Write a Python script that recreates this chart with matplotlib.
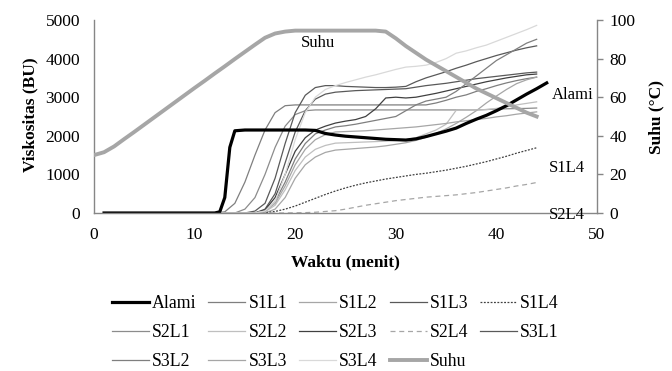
import matplotlib
matplotlib.use("Agg")
import matplotlib.pyplot as plt
import numpy as np

plt.rcParams['font.family'] = ['Liberation Serif', 'DejaVu Serif']

# waktu (menit) for the viskositas curves
waktu = np.arange(1, 45)

s1l1 = [0, 0, 0, 0, 0, 0, 0, 0, 0, 0, 0, 0, 30, 250, 800, 1500, 2150, 2600, 2780, 2800,
        2800, 2800, 2800, 2800, 2800, 2800, 2800, 2800, 2800, 2800, 2800, 2800, 2800,
        2850, 2920, 3000, 3060, 3150, 3220, 3300, 3370, 3430, 3480, 3520]
s1l2 = [0, 0, 0, 0, 0, 0, 0, 0, 0, 0, 0, 0, 0, 0, 0, 0, 0, 100, 400, 900, 1250, 1450,
        1570, 1630, 1650, 1670, 1690, 1710, 1740, 1780, 1820, 1880, 1960, 2060, 2180,
        2320, 2480, 2650, 2850, 3030, 3200, 3350, 3450, 3520]
s1l3 = [0, 0, 0, 0, 0, 0, 0, 0, 0, 0, 0, 0, 0, 0, 0, 0, 100, 500, 1300, 2100, 2650, 2950,
        3080, 3130, 3150, 3170, 3180, 3190, 3200, 3210, 3220, 3260, 3300, 3330, 3360,
        3400, 3440, 3480, 3510, 3540, 3570, 3600, 3630, 3650]
s1l4 = [0, 0, 0, 0, 0, 0, 0, 0, 0, 0, 0, 0, 0, 0, 0, 0, 10, 40, 100, 180, 280, 380, 480,
        570, 650, 720, 780, 830, 880, 920, 960, 1000, 1030, 1070, 1110, 1160, 1210,
        1270, 1330, 1400, 1470, 1550, 1620, 1690]
s2l1 = [0, 0, 0, 0, 0, 0, 0, 0, 0, 0, 0, 0, 0, 0, 100, 400, 1000, 1700, 2250, 2550, 2650,
        2670, 2670, 2670, 2670, 2670, 2670, 2670, 2670, 2670, 2670, 2670, 2670, 2670,
        2670, 2670, 2670, 2670, 2680, 2690, 2700, 2705, 2710, 2720]
s2l2 = [0, 0, 0, 0, 0, 0, 0, 0, 0, 0, 0, 0, 0, 0, 0, 0, 30, 200, 600, 1100, 1450, 1650,
        1750, 1810, 1820, 1830, 1840, 1850, 1860, 1880, 1900, 1950, 2050, 2150, 2300,
        2660, 2670, 2670, 2680, 2710, 2750, 2800, 2840, 2880]
s2l3 = [0, 0, 0, 0, 0, 0, 0, 0, 0, 0, 0, 0, 0, 0, 0, 0, 80, 400, 1000, 1600, 1950, 2150,
        2250, 2330, 2380, 2420, 2500, 2700, 2980, 3000, 2980, 3000, 3050, 3100, 3160,
        3220, 3280, 3340, 3400, 3450, 3500, 3540, 3580, 3600]
s2l4 = [0, 0, 0, 0, 0, 0, 0, 0, 0, 0, 0, 0, 0, 0, 0, 0, 0, 0, 0, 5, 10, 20, 40, 60, 100,
        150, 200, 240, 280, 320, 350, 380, 410, 430, 450, 470, 500, 530, 570, 610, 650,
        700, 740, 790]
s3l1 = [0, 0, 0, 0, 0, 0, 0, 0, 0, 0, 0, 0, 0, 0, 0, 50, 250, 900, 1800, 2600, 3050, 3250,
        3300, 3300, 3280, 3270, 3260, 3250, 3250, 3260, 3280, 3400, 3500, 3580, 3660,
        3750, 3830, 3920, 4000, 4080, 4150, 4220, 4280, 4330]
s3l2 = [0, 0, 0, 0, 0, 0, 0, 0, 0, 0, 0, 0, 0, 0, 0, 0, 50, 300, 800, 1400, 1800, 2050,
        2150, 2230, 2260, 2300, 2350, 2400, 2450, 2500, 2650, 2800, 2900, 2950, 3000,
        3150, 3350, 3550, 3750, 3950, 4100, 4250, 4400, 4500]
s3l3 = [0, 0, 0, 0, 0, 0, 0, 0, 0, 0, 0, 0, 0, 0, 0, 0, 50, 250, 700, 1250, 1650, 1900,
        2030, 2100, 2110, 2120, 2130, 2150, 2170, 2190, 2210, 2230, 2260, 2290, 2320,
        2360, 2390, 2420, 2450, 2490, 2520, 2560, 2590, 2620]
s3l4 = [0, 0, 0, 0, 0, 0, 0, 0, 0, 0, 0, 0, 0, 0, 0, 0, 50, 300, 1000, 1900, 2600, 3000,
        3200, 3300, 3380, 3450, 3520, 3580, 3650, 3720, 3780, 3800, 3830, 3900, 4000,
        4140, 4200, 4280, 4350, 4450, 4550, 4650, 4750, 4860]

# Alami has extra samples around its sharp rise
waktu_alami = [1, 2, 3, 4, 5, 6, 7, 8, 9, 10, 11, 12, 12.5, 13, 13.5, 14, 15, 16, 17, 18,
               19, 20, 21, 22, 23, 24, 25, 26, 27, 28, 29, 30, 31, 32, 33, 34, 35, 36, 37,
               38, 39, 40, 41, 42, 43, 44, 45]
alami = [0, 0, 0, 0, 0, 0, 0, 0, 0, 0, 0, 0, 30, 400, 1700, 2130, 2150, 2150, 2150, 2150,
         2150, 2150, 2150, 2140, 2060, 2020, 1990, 1970, 1950, 1930, 1910, 1900, 1890,
         1920, 1980, 2050, 2120, 2200, 2320, 2430, 2530, 2650, 2780, 2930, 3080, 3220,
         3370]

# suhu (°C), right axis
waktu_suhu = np.arange(0, 45)
suhu = [30, 31.5, 34.5, 38.3, 42, 45.8, 49.6, 53.4, 57.2, 61, 64.8, 68.5, 72.3, 76, 79.8,
        83.5, 87.2, 90.8, 93, 94, 94.5, 94.5, 94.5, 94.5, 94.5, 94.5, 94.5, 94.5, 94.5,
        94, 90.5, 86.5, 83, 79.5, 76.5, 73.5, 70.5, 67.5, 64.5, 62, 59.5, 57, 54.5, 52, 50]

series = [
    ("S1L1", s1l1, '#7f7f7f', '-'),
    ("S1L2", s1l2, '#a6a6a6', '-'),
    ("S1L3", s1l3, '#595959', '-'),
    ("S1L4", s1l4, '#404040', (0, (1.5, 1.2))),
    ("S2L1", s2l1, '#8c8c8c', '-'),
    ("S2L2", s2l2, '#bfbfbf', '-'),
    ("S2L3", s2l3, '#404040', '-'),
    ("S2L4", s2l4, '#a6a6a6', (0, (4, 3))),
    ("S3L1", s3l1, '#595959', '-'),
    ("S3L2", s3l2, '#7f7f7f', '-'),
    ("S3L3", s3l3, '#a6a6a6', '-'),
    ("S3L4", s3l4, '#d9d9d9', '-'),
]

fig = plt.figure(figsize=(6.72, 3.71), dpi=100)
ax = fig.add_axes([94 / 672, 1 - 213 / 371, 503 / 672, 193 / 371])

lines = {}
for name, vals, col, ls in series:
    lines[name], = ax.plot(waktu, vals, color=col, ls=ls, lw=0.9, label=name)
lines["Alami"], = ax.plot(waktu_alami, alami, color='black', lw=2.3, label="Alami")

ax.set_xlim(0, 50)
ax.set_ylim(0, 5000)
ax.set_xticks([0, 10, 20, 30, 40, 50])
ax.set_yticks([0, 1000, 2000, 3000, 4000, 5000])

ax2 = ax.twinx()
lines["Suhu"], = ax2.plot(waktu_suhu, suhu, color='#a6a6a6', lw=2.8, label="Suhu")
ax2.set_ylim(0, 100)
ax2.set_yticks([0, 20, 40, 60, 80, 100])

for a in (ax, ax2):
    a.spines['top'].set_visible(False)
    for s in ('left', 'bottom', 'right'):
        a.spines[s].set_color('#868686')
        a.spines[s].set_linewidth(1)
ax.spines['right'].set_visible(False)
ax2.spines['left'].set_visible(False)
ax2.spines['bottom'].set_visible(False)

ax.tick_params(axis='both', length=0, labelsize=12.5)
ax.tick_params(axis='y', pad=10)
ax.tick_params(axis='x', pad=10)
ax2.tick_params(axis='y', direction='out', length=4, width=1, color='#868686',
                labelsize=12.5, pad=5)

ax.set_xlabel("Waktu (menit)", fontsize=12.5, fontweight='bold', va='center')
ax.xaxis.set_label_coords(0.499, -0.254)
ax.set_ylabel("Viskositas (BU)", fontsize=12.5, fontweight='bold', va='center', ha='center')
ax.yaxis.set_label_coords(-0.127, 0.508)
ax2.set_ylabel("Suhu (°C)", fontsize=12.5, fontweight='bold', va='center', ha='center',
               rotation=90)
ax2.yaxis.set_label_coords(1.119, 0.497)

# series names written next to the curves
ax.text(22.3, 4400, "Suhu", fontsize=12, ha='center', va='center')
ax.text(49.6, 3060, "Alami", fontsize=12, ha='right', va='center', clip_on=False)
ax.text(48.8, 1165, "S1L4", fontsize=12, ha='right', va='center', clip_on=False)
ax.text(48.8, -50, "S2L4", fontsize=12, ha='right', va='center', clip_on=False)

# legend order so that the 5 columns read row by row
order = ["Alami", "S2L1", "S3L2", "S1L1", "S2L2", "S3L3", "S1L2", "S2L3", "S3L4",
         "S1L3", "S2L4", "Suhu", "S1L4", "S3L1"]
fig.legend([lines[k] for k in order], order, ncol=5, loc='upper left',
           bbox_to_anchor=(112 / 672, 1 - 295 / 371), frameon=False, fontsize=12.8,
           handlelength=2.08, handletextpad=0.17, columnspacing=0.67, labelspacing=0.68,
           borderpad=0, borderaxespad=0)

fig.savefig("out.png", dpi=100)
